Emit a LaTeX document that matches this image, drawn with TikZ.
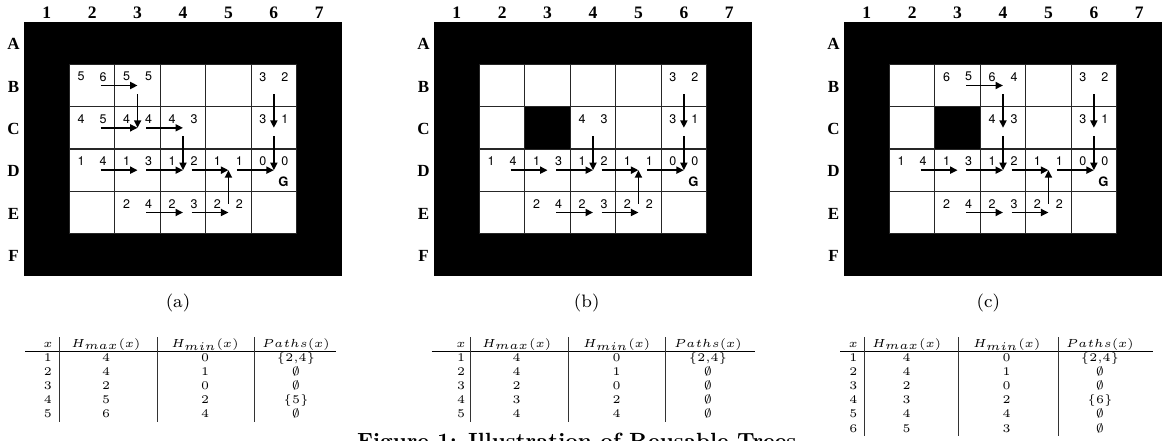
\documentclass[tikz,border=0pt]{standalone}
\usepackage{fontspec}
\usepackage{graphicx}
\usetikzlibrary{arrows.meta}
\newfontfamily\gridfont{TeX Gyre Heros}
\newfontfamily\labfont{Liberation Serif}
\newcommand{\cw}{45.43}
\newcommand{\ch}{42.33}
\newcommand{\tsc}[1]{\scalebox{2.35}{#1}}
% grid panel: #1 prefix, #2 ox, #3 oy
\newcommand{\gridpanel}[3]{%
  \fill[black] (#2,#3) rectangle ++(7*\cw,6*\ch);
  \foreach \c in {2,...,6} \foreach \r in {2,...,5} {
    \node[cellbox] (#1-\c-\r) at ({#2+(\c-0.5)*\cw},{#3+(\r-0.5)*\ch}) {};
  }
  \foreach \c in {1,...,7} \node[collab] (#1-col\c) at ({#2+(\c-0.5)*\cw},18) {\c};
  \foreach \r/\L in {1/A,2/B,3/C,4/D,5/E,6/F} \node[rowlab] (#1-row\L) at ({#2-10.5},{#3+(\r-0.5)*\ch+1}) {\L};
}
\newcommand{\nv}[3]{%
  \node[num, xshift=-11pt, yshift=8.8pt] (#1-L) at (#1.center) {#2};
  \node[num, xshift=11pt, yshift=8.8pt] (#1-R) at (#1.center) {#3};
}
\newcommand{\mvarrow}[2]{\draw[arr] (#1.center) -- (#2.center);}
% common content of every panel
\newcommand{\commonpart}[1]{%
  \nv{#1-6-2}{3}{2}
  \nv{#1-6-3}{3}{1}
  \nv{#1-2-4}{1}{4}
  \nv{#1-3-4}{1}{3}
  \nv{#1-4-4}{1}{2}
  \nv{#1-5-4}{1}{1}
  \nv{#1-6-4}{0}{0}
  \node[goal, xshift=9.5pt, yshift=-11.5pt] (#1-goal) at (#1-6-4.center) {G};
  \nv{#1-3-5}{2}{4}
  \nv{#1-4-5}{2}{3}
  \nv{#1-5-5}{2}{2}
  \mvarrow{#1-6-2}{#1-6-3}
  \mvarrow{#1-6-3}{#1-6-4}
  \mvarrow{#1-2-4}{#1-3-4}
  \mvarrow{#1-3-4}{#1-4-4}
  \mvarrow{#1-4-4}{#1-5-4}
  \mvarrow{#1-5-4}{#1-6-4}
  \mvarrow{#1-3-5}{#1-4-5}
  \mvarrow{#1-4-5}{#1-5-5}
  \mvarrow{#1-5-5}{#1-5-4}
}
% table: #1 prefix, #2 rows
\newcommand{\maketab}[2]{%
  \node[tabtxt] (#1-hx) at (\tca,\thy) {\tsc{$x$}};
  \node[tabtxt] (#1-hmax) at (\tcb,\thy) {\tsc{$H_{max}(x)$}};
  \node[tabtxt] (#1-hmin) at (\tcc,\thy) {\tsc{$H_{min}(x)$}};
  \node[tabtxt] (#1-hpath) at (\tcd,\thy) {\tsc{$Paths(x)$}};
  \draw[hrulest] (\thl,\thly) -- (\thr,\thly);
  \draw[vrulest] (\tra,\tvt) -- (\tra,\tvb);
  \draw[vrulest] (\trb,\tvt) -- (\trb,\tvb);
  \draw[vrulest] (\trc,\tvt) -- (\trc,\tvb);
  \foreach \p/\q/\s/\t [count=\k] in {#2} {
    \node[tabtxt] (#1-\k-a) at (\tca,{\try+(\k-1)*\trs}) {\tsc{\p}};
    \node[tabtxt] (#1-\k-b) at (\tcb,{\try+(\k-1)*\trs}) {\tsc{\q}};
    \node[tabtxt] (#1-\k-c) at (\tcc,{\try+(\k-1)*\trs}) {\tsc{\s}};
    \node[tabtxt] (#1-\k-d) at (\tcd,{\try+(\k-1)*\trs}) {\tsc{\t}};
  }
}
\begin{document}
\begin{tikzpicture}[x=1pt,y=-1pt,
  cellbox/.style={draw=black!85, line width=1.1pt, fill=white, minimum width=45.43pt, minimum height=42.33pt, inner sep=0pt, outer sep=0pt},
  blkbox/.style={fill=black, minimum width=45.6pt, minimum height=42.5pt, inner sep=0pt, outer sep=0pt},
  num/.style={font=\gridfont\fontsize{12.5}{14}\selectfont, inner sep=0pt},
  goal/.style={font=\gridfont\bfseries\fontsize{13}{15}\selectfont, inner sep=0pt},
  arr/.style={-{Triangle[length=7.5pt,width=7pt]}, line width=1.8pt, shorten <=8.5pt},
  collab/.style={font=\labfont\bfseries\fontsize{17.5}{20}\selectfont, inner sep=0pt, anchor=base},
  rowlab/.style={font=\labfont\bfseries\fontsize{17}{20}\selectfont, inner sep=0pt},
  subcap/.style={font=\fontsize{8}{9.6}\selectfont, inner sep=0pt, anchor=base},
  tabtxt/.style={font=\fontsize{5}{6}\selectfont, inner sep=0pt, anchor=base},
  hrulest/.style={line width=1pt, black},
  vrulest/.style={line width=1pt, black!80},
]
\fill[white] (0,0) rectangle (1166,440);
\useasboundingbox (0,0) rectangle (1166,440);

% ---------------- panel (a)
\gridpanel{a}{24}{22}
\nv{a-2-2}{5}{6}
\nv{a-3-2}{5}{5}
\nv{a-2-3}{4}{5}
\nv{a-3-3}{4}{4}
\nv{a-4-3}{4}{3}
\commonpart{a}
\mvarrow{a-2-2}{a-3-2}
\mvarrow{a-3-2}{a-3-3}
\mvarrow{a-2-3}{a-3-3}
\mvarrow{a-3-3}{a-4-3}
\mvarrow{a-4-3}{a-4-4}

% ---------------- panel (b)
\gridpanel{b}{434}{22}
\node[blkbox] (b-blk) at (b-3-3.center) {};
\nv{b-4-3}{4}{3}
\commonpart{b}
\mvarrow{b-4-3}{b-4-4}

% ---------------- panel (c)
\gridpanel{c}{844}{22}
\node[blkbox] (c-blk) at (c-3-3.center) {};
\nv{c-3-2}{6}{5}
\nv{c-4-2}{6}{4}
\nv{c-4-3}{4}{3}
\commonpart{c}
\mvarrow{c-3-2}{c-4-2}
\mvarrow{c-4-2}{c-4-3}
\mvarrow{c-4-3}{c-4-4}

% ---------------- sub captions
\node[subcap] (capa) at (178,307) {\scalebox{2.25}{(a)}};
\node[subcap] (capb) at (586.7,307) {\scalebox{2.25}{(b)}};
\node[subcap] (capc) at (988.3,307) {\scalebox{2.25}{(c)}};

% ---------------- tables
\def\thy{347}\def\thly{351.2}\def\try{361.5}\def\trs{14.1}\def\tvt{337}

\def\tca{48}\def\tcb{106}\def\tcc{205}\def\tcd{296}
\def\tra{59.3}\def\trb{157.3}\def\trc{254}\def\thl{25}\def\thr{336}\def\tvb{422}
\maketab{ta}{1/4/0/{$\{2{,}4\}$}, 2/4/1/{$\emptyset$}, 3/2/0/{$\emptyset$}, 4/5/2/{$\{5\}$}, 5/6/4/{$\emptyset$}}

\def\tca{461}\def\tcb{516.7}\def\tcc{616.7}\def\tcd{708}
\def\tra{470.7}\def\trb{568}\def\trc{665}\def\thl{431.7}\def\thr{755}\def\tvb{422}
\maketab{tb}{1/4/0/{$\{2{,}4\}$}, 2/4/1/{$\emptyset$}, 3/2/0/{$\emptyset$}, 4/3/2/{$\emptyset$}, 5/4/4/{$\emptyset$}}

\def\tca{853.3}\def\tcb{906.7}\def\tcc{1006.7}\def\tcd{1100}
\def\tra{864}\def\trb{958}\def\trc{1058}\def\thl{840}\def\thr{1153}\def\tvb{436}
\maketab{tc}{1/4/0/{$\{2{,}4\}$}, 2/4/1/{$\emptyset$}, 3/2/0/{$\emptyset$}, 4/3/2/{$\{6\}$}, 5/4/4/{$\emptyset$}, 6/5/3/{$\emptyset$}}

% ---------------- figure caption
\node[font=\bfseries\fontsize{10}{12}\selectfont, inner sep=0pt, anchor=base west] (figcap) at (357,448) {\scalebox{2.2}{Figure 1: Illustration of Reusable Trees}};
\end{tikzpicture}
\end{document}
